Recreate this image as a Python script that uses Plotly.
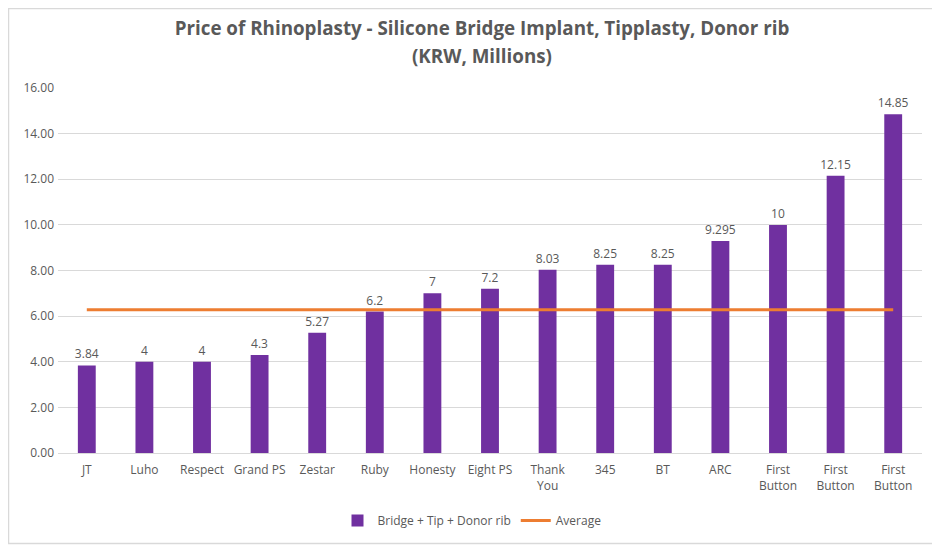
import plotly.graph_objects as go

clinics = ["JT", "Luho", "Respect", "Grand PS", "Zestar", "Ruby", "Honesty", "Eight PS",
           "Thank<br>You", "345", "BT", "ARC", "First<br>Button", "First<br>Button", "First<br>Button"]
prices = [3.84, 4, 4, 4.3, 5.27, 6.2, 7, 7.2, 8.03, 8.25, 8.25, 9.295, 10, 12.15, 14.85]
price_labels = ["3.84", "4", "4", "4.3", "5.27", "6.2", "7", "7.2", "8.03", "8.25", "8.25",
                "9.295", "10", "12.15", "14.85"]
average = [6.28] * len(prices)

x = list(range(len(clinics)))
grey = "#595959"
font = "Open Sans"

W, H = 932, 537
L, R, T, B = 50, 18, 80, 92
pw, ph = W - L - R, H - T - B

fig = go.Figure()
fig.add_trace(go.Bar(
    x=x, y=prices, name="Bridge + Tip + Donor rib",
    marker=dict(color="#7030A0", line=dict(width=0)),
    width=0.31, text=price_labels, textposition="outside", cliponaxis=False,
    constraintext="none", textangle=0,
    textfont=dict(color=grey, size=12, family=font),
))
fig.add_trace(go.Scatter(
    x=x, y=average, name="Average", mode="lines",
    line=dict(color="#ED7D31", width=3),
))

fig.update_layout(
    width=W, height=H,
    margin=dict(l=L, r=R, t=T, b=B, autoexpand=False),
    paper_bgcolor="white", plot_bgcolor="white",
    title=dict(
        text="<b>Price of Rhinoplasty - Silicone Bridge Implant, Tipplasty, Donor rib</b>",
        x=(482 - 8) / W, xanchor="center", yref="container", y=1 - 20 / H, yanchor="middle",
        font=dict(size=18.8, color=grey, family=font),
    ),
    annotations=[dict(
        text="<b>(KRW, Millions)</b>", xref="paper", yref="paper",
        x=(482 - 8 - L) / pw, y=(T + ph - 48) / ph, xanchor="center", yanchor="middle",
        showarrow=False, font=dict(size=18.8, color=grey, family=font),
    )],
    font=dict(family=font, color=grey, size=12),
    showlegend=True,
    uniformtext=dict(minsize=12, mode="show"),
    legend=dict(orientation="h", x=(472 - 8 - L) / pw, xanchor="center", y=-0.145, yanchor="top",
                font=dict(size=12, color=grey, family=font), traceorder="normal"),
    shapes=[dict(type="rect", xref="paper", yref="paper",
                 x0=(0.5 - L) / pw, x1=(W - 1.5 - L) / pw,
                 y0=(ph + T - (H - 1.5)) / ph, y1=(ph + T - 0.5) / ph,
                 line=dict(color="#D9D9D9", width=1.5), layer="below")],
)
fig.update_xaxes(
    tickmode="array", tickvals=x, ticktext=clinics, range=[-0.5, 14.5],
    showgrid=False, showline=True, linecolor="#D9D9D9", linewidth=1,
    ticks="", ticklabelstandoff=6, tickfont=dict(size=12, color=grey, family=font), zeroline=False,
)
fig.update_yaxes(
    range=[0, 16], dtick=2, tickformat=".2f", showgrid=True, gridcolor="#D9D9D9",
    gridwidth=1, zeroline=False, showline=False, ticks="", ticklabelstandoff=3,
    tickfont=dict(size=12, color=grey, family=font),
)

fig.write_html("out.html")
